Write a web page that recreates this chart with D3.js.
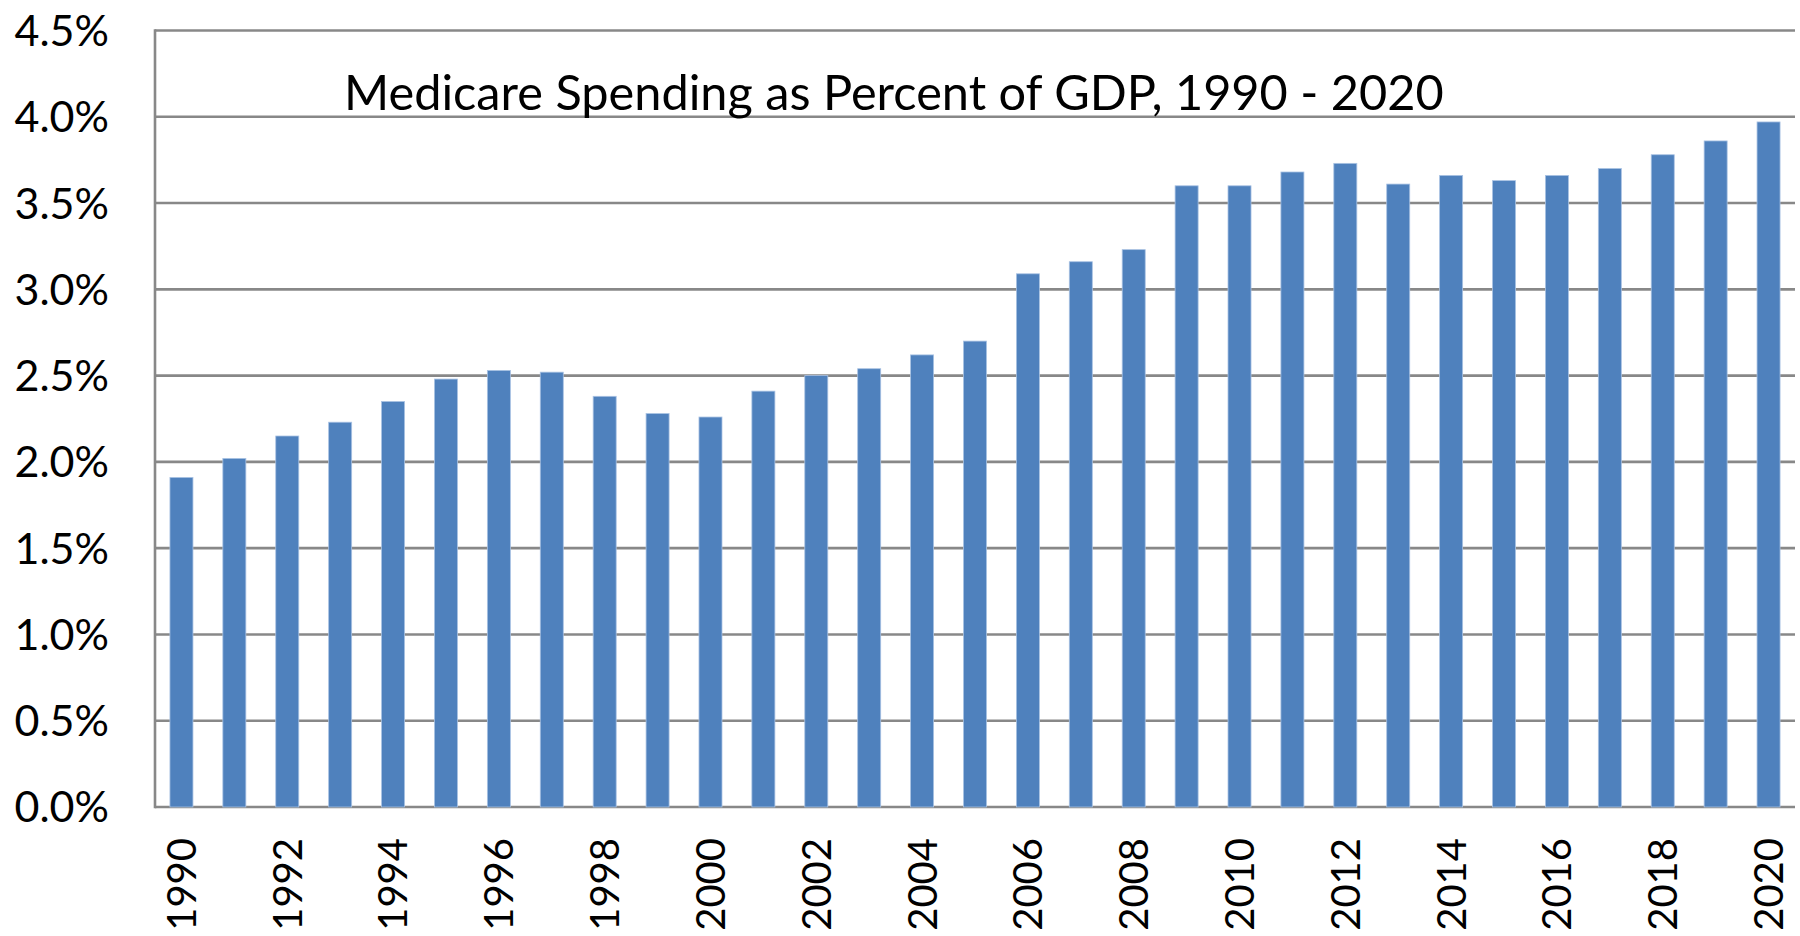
<!DOCTYPE html>
<html>
<head>
<meta charset="utf-8">
<script src="https://cdn.jsdelivr.net/npm/d3@7"></script>
<style>
  html, body { margin: 0; padding: 0; background: #ffffff; }
  svg { display: block; }
</style>
</head>
<body>
<svg id="chart" width="1800" height="936"></svg>
<script>
// Medicare spending as a share of GDP, by year
const years = [1990, 1991, 1992, 1993, 1994, 1995, 1996, 1997, 1998, 1999,
               2000, 2001, 2002, 2003, 2004, 2005, 2006, 2007, 2008, 2009,
               2010, 2011, 2012, 2013, 2014, 2015, 2016, 2017, 2018, 2019, 2020];
const shareOfGdp = [0.0191, 0.0202, 0.0215, 0.0223, 0.0235, 0.0248, 0.0253, 0.0252, 0.0238, 0.0228,
                    0.0226, 0.0241, 0.0250, 0.0254, 0.0262, 0.0270, 0.0309, 0.0316, 0.0323, 0.0360,
                    0.0360, 0.0368, 0.0373, 0.0361, 0.0366, 0.0363, 0.0366, 0.0370, 0.0378, 0.0386, 0.0397];
const yTicks = [0, 0.005, 0.01, 0.015, 0.02, 0.025, 0.03, 0.035, 0.04, 0.045];
const xTickYears = [1990, 1992, 1994, 1996, 1998, 2000, 2002, 2004, 2006, 2008,
                    2010, 2012, 2014, 2016, 2018, 2020];
const chartTitle = "Medicare Spending as Percent of GDP, 1990 - 2020";

(function () {
  const svg = d3.select("#chart");
  const plotLeft = 155, plotRight = 1795, plotTop = 30.5, plotBottom = 807;
  const gridColor = "#888888";
  const barColor = "#4f81bd";
  const fontFamily = "Lato, 'Open Sans', 'Liberation Sans', sans-serif";

  const x = d3.scaleBand().domain(years).range([plotLeft, plotRight])
    .paddingInner(0.565).paddingOuter(0.2825);
  const y = d3.scaleLinear().domain([0, 0.045]).range([plotBottom, plotTop]);

  // horizontal gridlines
  svg.append("g").selectAll("line").data(yTicks).join("line")
    .attr("x1", plotLeft).attr("x2", plotRight)
    .attr("y1", d => y(d)).attr("y2", d => y(d))
    .attr("stroke", gridColor).attr("stroke-width", 2.6);

  // bars
  svg.append("g").selectAll("rect").data(years).join("rect")
    .attr("x", d => x(d))
    .attr("width", x.bandwidth())
    .attr("y", (d, i) => y(shareOfGdp[i]))
    .attr("height", (d, i) => y(0) - y(shareOfGdp[i]))
    .attr("fill", barColor)
    .attr("stroke", "#a9c2e3").attr("stroke-width", 0.8);

  // y axis line
  svg.append("line")
    .attr("x1", plotLeft).attr("x2", plotLeft)
    .attr("y1", plotTop - 1.3).attr("y2", plotBottom + 1.3)
    .attr("stroke", gridColor).attr("stroke-width", 2.6);

  // y axis labels
  const pct = d3.format(".1%");
  svg.append("g").selectAll("text").data(yTicks).join("text")
    .attr("x", 109).attr("y", d => y(d))
    .attr("dy", "0.36em")
    .attr("text-anchor", "end")
    .attr("font-family", fontFamily)
    .attr("font-size", 43)
    .attr("fill", "#000")
    .text(d => pct(d));

  // x axis labels, rotated
  svg.append("g").selectAll("text").data(xTickYears).join("text")
    .attr("transform", d => `translate(${x(d) + x.bandwidth() / 2},838) rotate(-90)`)
    .attr("text-anchor", "end")
    .attr("dy", "0.36em")
    .attr("font-family", fontFamily)
    .attr("font-size", 40)
    .attr("fill", "#000")
    .text(d => d);

  // title, sized to span its line
  const title = svg.append("text")
    .attr("x", 344).attr("y", 110)
    .attr("font-family", fontFamily)
    .attr("font-size", 50)
    .attr("fill", "#000")
    .text(chartTitle);
  const w = title.node().getComputedTextLength();
  title.attr("font-size", 50 * 1100 / w);
})();
</script>
</body>
</html>
